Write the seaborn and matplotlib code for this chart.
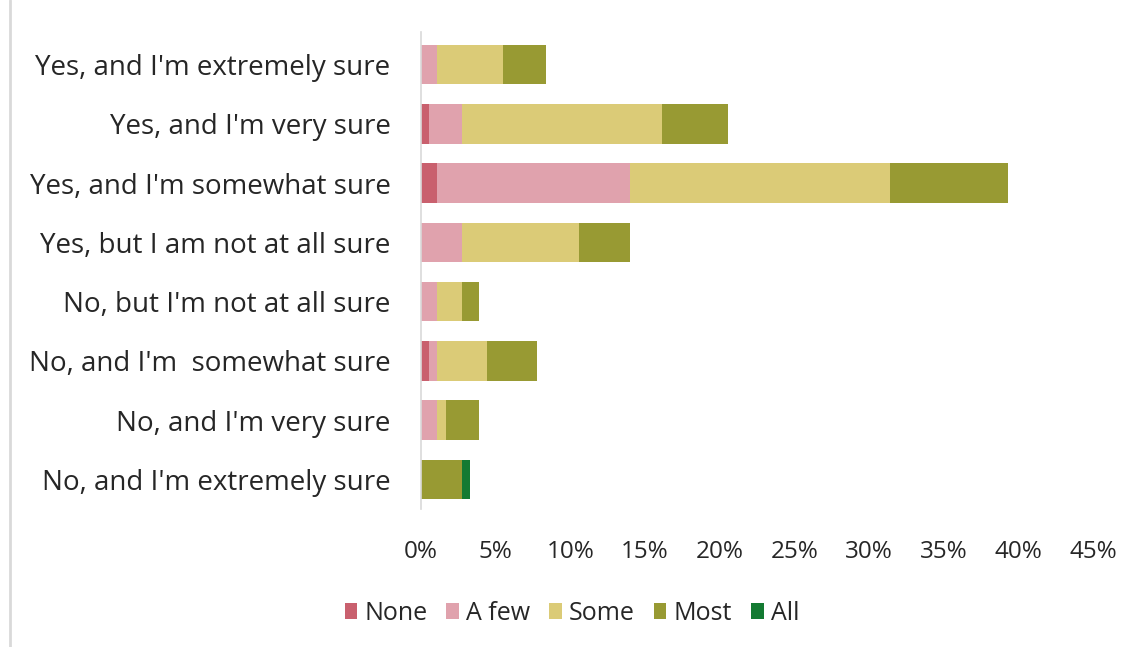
import matplotlib
matplotlib.use("Agg")
import matplotlib.pyplot as plt
import seaborn as sns
import pandas as pd
import numpy as np
from matplotlib.patches import Patch
from matplotlib.lines import Line2D

categories = [
    "Yes, and I'm extremely sure",
    "Yes, and I'm very sure",
    "Yes, and I'm somewhat sure",
    "Yes, but I am not at all sure",
    "No, but I'm not at all sure",
    "No, and I'm  somewhat sure",
    "No, and I'm very sure",
    "No, and I'm extremely sure",
]
series_names = ["None", "A few", "Some", "Most", "All"]
none_vals = [0.0, 0.55, 1.1, 0.0, 0.0, 0.55, 0.0, 0.0]
afew_vals = [1.1, 2.2, 12.9, 2.75, 1.1, 0.5, 1.1, 0.0]
some_vals = [4.4, 13.4, 17.4, 7.85, 1.65, 3.35, 0.6, 0.0]
most_vals = [2.85, 4.4, 7.9, 3.4, 1.15, 3.35, 2.2, 2.75]
all_vals = [0.0, 0.0, 0.0, 0.0, 0.0, 0.0, 0.0, 0.55]
colors = ["#C9606E", "#E0A2AD", "#DBCB77", "#989A33", "#137A32"]
xtick_vals = [0, 5, 10, 15, 20, 25, 30, 35, 40, 45]

sns.set_theme(style="white")
plt.rcParams["font.family"] = ["Open Sans", "DejaVu Sans"]

fig = plt.figure(figsize=(11.42, 6.47), dpi=100)
ax = fig.add_axes([421 / 1142, 1 - 509 / 647, 672 / 1142, 477 / 647])

series = [none_vals, afew_vals, some_vals, most_vals, all_vals]
cum = np.cumsum(np.array(series), axis=0)
# draw cumulative totals from the outermost layer inward
for i in range(len(series) - 1, -1, -1):
    df = pd.DataFrame({"cat": categories, "val": cum[i]})
    sns.barplot(data=df, x="val", y="cat", orient="h", color=colors[i],
                saturation=1, width=0.67, ax=ax, linewidth=0, order=categories)

ax.set_xlim(0, 45)
ax.set_ylim(7.5, -0.55)
ax.set_xticks(xtick_vals)
ax.set_xticklabels([f"{v}%" for v in xtick_vals])
ax.set_xlabel("")
ax.set_ylabel("")
for s in ["top", "right", "bottom"]:
    ax.spines[s].set_visible(False)
ax.spines["left"].set_color("#D9D9D9")
ax.spines["left"].set_linewidth(1.2)
ax.tick_params(axis="both", length=0, colors="#262626")
ax.tick_params(axis="y", pad=22, labelsize=20)
ax.tick_params(axis="x", pad=22, labelsize=17.5)

handles = [Patch(facecolor=c, edgecolor="none") for c in colors]
fig.legend(handles, series_names, loc="center", bbox_to_anchor=(572 / 1142, 1 - 613 / 647),
           ncol=5, frameon=False, fontsize=18, handlelength=0.5, handleheight=0.6,
           handletextpad=0.3, columnspacing=0.75, labelcolor="#262626")

fig.add_artist(Line2D([9.5 / 1142, 9.5 / 1142], [0, 1], color="#D9D9D9", lw=2,
                      transform=fig.transFigure))

fig.savefig("out.png", dpi=100)
